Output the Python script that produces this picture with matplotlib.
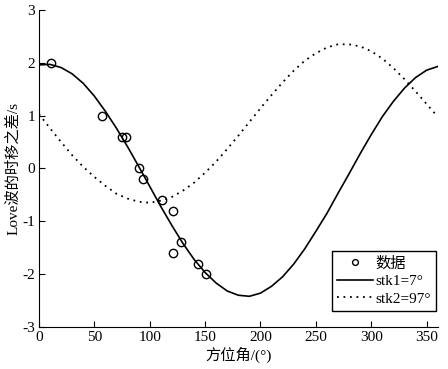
import numpy as np
import matplotlib
matplotlib.use('Agg')
import matplotlib.pyplot as plt

plt.rcParams['font.family'] = ['Liberation Serif', 'Noto Sans CJK SC', 'DejaVu Sans']
plt.rcParams['axes.unicode_minus'] = False

# observed points
az_obs = [11, 57, 75, 79, 90, 94, 111, 121, 121, 128, 144, 151]
dt_obs = [2.0, 1.0, 0.6, 0.6, 0.0, -0.2, -0.6, -0.8, -1.6, -1.4, -1.8, -2.0]

# curves, every 10 degrees
az = list(range(0, 361, 10))
stk1 = [1.96, 1.97, 1.91, 1.79, 1.61, 1.37, 1.08, 0.76, 0.41, 0.04,
        -0.34, -0.72, -1.08, -1.42, -1.72, -1.97, -2.17, -2.32, -2.40, -2.42,
        -2.36, -2.23, -2.05, -1.81, -1.52, -1.19, -0.85, -0.47, -0.10, 0.28,
        0.64, 0.98, 1.27, 1.52, 1.72, 1.86, 1.93]
stk2 = [1.03, 0.76, 0.50, 0.25, 0.03, -0.16, -0.33, -0.48, -0.57, -0.63,
        -0.65, -0.61, -0.54, -0.42, -0.27, -0.08, 0.13, 0.37, 0.62, 0.88,
        1.14, 1.39, 1.63, 1.85, 2.04, 2.18, 2.29, 2.35, 2.35, 2.31,
        2.22, 2.08, 1.90, 1.69, 1.46, 1.22, 0.98]

fig = plt.figure(figsize=(4.48, 3.69), dpi=100)
ax = fig.add_axes([0.087, 0.114, 0.89, 0.859])

ax.plot(az_obs, dt_obs, 'o', mfc='none', mec='black', ms=6, mew=1.0, label='数据')
ax.plot(az, stk1, '-', color='black', lw=1.2, label='stk1=7°')
ax.plot(az, stk2, color='black', lw=1.3, dashes=(1, 2.6), label='stk2=97°')

ax.set_xlim(0, 360)
ax.set_ylim(-3, 3)
ax.set_xticks(range(0, 351, 50))
ax.set_yticks(range(-3, 4))
ax.spines['top'].set_visible(False)
ax.spines['right'].set_visible(False)
ax.tick_params(direction='in', length=4, labelsize=11, pad=3)
ax.set_xlabel('方位角/(°)', fontsize=11, labelpad=2)
ax.set_ylabel('Love波的时移之差/s', fontsize=11, labelpad=1)

leg = ax.legend(loc='lower right', bbox_to_anchor=(0.997, 0.05), fontsize=11,
                fancybox=False, edgecolor='black', framealpha=1,
                handlelength=2.3, handletextpad=0.2, borderpad=0.35,
                labelspacing=0.25, markerscale=0.7, borderaxespad=0)
leg.get_frame().set_linewidth(1.0)

plt.savefig('out.png', dpi=100)
